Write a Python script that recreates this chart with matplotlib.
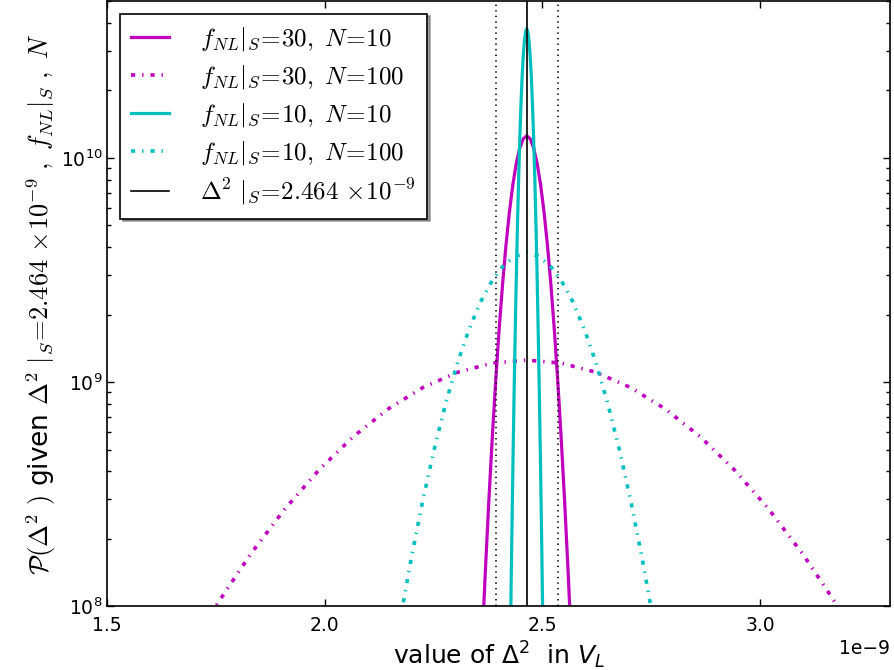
import numpy as np
import matplotlib
matplotlib.use("Agg")
import matplotlib.pyplot as plt

# ---- data (x in units of 1e-9) ----
xA = [2.4269, 2.42955, 2.4322, 2.43485, 2.4375, 2.44015, 2.4428, 2.44545, 2.4481, 2.45075,
      2.4534, 2.45605, 2.4587, 2.46135, 2.464, 2.46665, 2.4693, 2.47195, 2.4746, 2.47725,
      2.4799, 2.48255, 2.4852, 2.48785, 2.4905, 2.49315, 2.4958, 2.49845, 2.5011]
yA_half = [3.760e10, 3.645e10, 3.318e10, 2.838e10, 2.281e10, 1.722e10, 1.221e10, 8.134e9,
           5.088e9, 2.993e9, 1.653e9, 8.576e8, 4.178e8, 1.914e8, 8.232e7]
xB = [2.36065, 2.3686, 2.37655, 2.3845, 2.39245, 2.4004, 2.40835, 2.4163, 2.42425, 2.4322,
      2.44015, 2.4481, 2.45605, 2.464, 2.47195, 2.4799, 2.48785, 2.4958, 2.50375, 2.5117,
      2.51965, 2.5276, 2.53555, 2.5435, 2.55145, 2.5594, 2.56735]
yB_half = [1.254e10, 1.2153e10, 1.1066e10, 9.467e9, 7.606e9, 5.742e9, 4.072e9, 2.713e9,
           1.697e9, 9.982e8, 5.512e8, 2.860e8, 1.393e8, 6.385e7]
xC = [2.1725, 2.199, 2.2255, 2.252, 2.2785, 2.305, 2.3315, 2.358, 2.3845, 2.411, 2.4375,
      2.464, 2.4905, 2.517, 2.5435, 2.570, 2.5965, 2.623, 2.6495, 2.676, 2.7025, 2.729, 2.7555]
yC_half = [3.760e9, 3.645e9, 3.318e9, 2.838e9, 2.281e9, 1.722e9, 1.221e9, 8.134e8,
           5.088e8, 2.993e8, 1.653e8, 8.576e7]
xD = [1.669, 1.7485, 1.828, 1.9075, 1.987, 2.0665, 2.146, 2.2255, 2.305, 2.3845, 2.464,
      2.5435, 2.623, 2.7025, 2.782, 2.8615, 2.941, 3.0205, 3.100, 3.1795, 3.259]
yD_half = [1.254e9, 1.2153e9, 1.1066e9, 9.467e8, 7.606e8, 5.742e8, 4.072e8, 2.713e8,
           1.697e8, 9.982e7, 5.512e7]
delta_S = 2.464
delta_band = [2.3935, 2.5365]
labels = [r'$f_{NL}|_S\!=\!30,\ N\!=\!10$', r'$f_{NL}|_S\!=\!30,\ N\!=\!100$',
          r'$f_{NL}|_S\!=\!10,\ N\!=\!10$', r'$f_{NL}|_S\!=\!10,\ N\!=\!100$',
          r'$\Delta^2\ |_S\!=\!2.464\ \!\times\!10^{-9}$']

def sym(h):
    return np.array(h[::-1] + h[1:])

plt.rcParams['lines.scale_dashes'] = False
fig = plt.figure(figsize=(8.95, 6.7), dpi=100)
ax = fig.add_axes([0.1199, 0.0948, 0.875, 0.9037])

dd = (0, (3, 5, 1, 5))
ax.plot(np.array(xB) * 1e-9, sym(yB_half), color='m', lw=2.3, label=labels[0])
ax.plot(np.array(xD) * 1e-9, sym(yD_half), color='m', lw=2.6, linestyle=dd, label=labels[1])
ax.plot(np.array(xA) * 1e-9, sym(yA_half), color='c', lw=2.3, label=labels[2])
ax.plot(np.array(xC) * 1e-9, sym(yC_half), color='c', lw=2.6, linestyle=dd, label=labels[3])
ax.axvline(delta_S * 1e-9, color='k', lw=1.2, label=labels[4])
for xv in delta_band:
    ax.axvline(xv * 1e-9, color='k', lw=1.2, linestyle=(0, (1, 3)))

ax.set_yscale('log')
ax.set_xlim(1.5e-9, 3.3e-9)
ax.set_ylim(1e8, 5e10)
ax.set_xticks([1.5e-9, 2.0e-9, 2.5e-9, 3.0e-9])
ax.ticklabel_format(axis='x', style='sci', scilimits=(0, 0), useMathText=False)
ax.tick_params(which='both', direction='in', top=True, right=True, labelsize=13.5)
ax.tick_params(axis='x', pad=7)
ax.tick_params(which='major', length=5, width=1)
ax.tick_params(which='minor', length=3, width=1)
ax.xaxis.get_offset_text().set_fontsize(13.5)
for s in ax.spines.values():
    s.set_linewidth(1.2)

ax.set_xlabel(r'value of $\Delta^2$  in $V_L$', fontsize=18, labelpad=3)
yl = ax.set_ylabel(r'$\mathcal{P}(\Delta^2\ )$ given $\Delta^2\ |_S\!=\!2.464\ \!\times\!10^{-9}\ ,\ f_{NL}|_S\ ,\ N$',
                   fontsize=19, labelpad=2)
yl.set_math_fontfamily('cm')

leg = ax.legend(loc='upper left', fontsize=18, shadow=True, fancybox=False,
                handlelength=1.5, handletextpad=1.25, borderpad=0.45, labelspacing=0.4,
                borderaxespad=0.5, framealpha=1, edgecolor='k')
leg.get_frame().set_linewidth(1.2)
for t in leg.get_texts():
    t.set_math_fontfamily('cm')

fig.savefig('out.png', dpi=100)
